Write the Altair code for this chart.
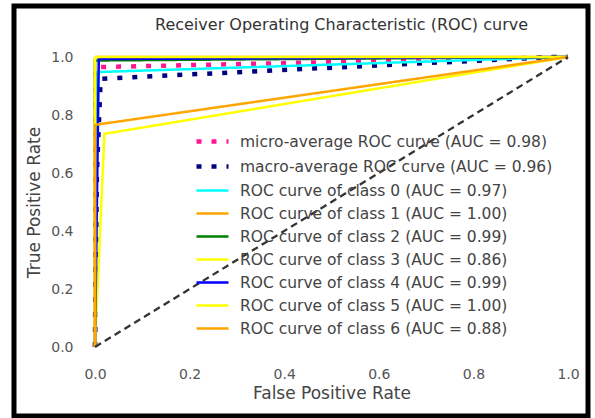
import altair as alt
import pandas as pd

# Curve labels, in legend order
series_names = [
    "micro-average ROC curve (AUC = 0.98)",
    "macro-average ROC curve (AUC = 0.96)",
    "ROC curve of class 0 (AUC = 0.97)",
    "ROC curve of class 1 (AUC = 1.00)",
    "ROC curve of class 2 (AUC = 0.99)",
    "ROC curve of class 3 (AUC = 0.86)",
    "ROC curve of class 4 (AUC = 0.99)",
    "ROC curve of class 5 (AUC = 1.00)",
    "ROC curve of class 6 (AUC = 0.88)",
]
series_colors = ["deeppink", "navy", "aqua", "orange", "green",
                 "yellow", "blue", "yellow", "orange"]

# ROC points per curve (false positive rate, true positive rate)
fpr_values = [
    [0.0, 0.002, 1.0],
    [0.0, 0.004, 0.012, 0.97, 1.0],
    [0.0, 0.005, 1.0],
    [0.0, 0.0, 1.0],
    [0.0, 0.0, 1.0],
    [0.0, 0.02, 1.0],
    [0.0, 0.008, 1.0],
    [0.0, 0.0, 1.0],
    [0.0, 0.0, 1.0],
]
tpr_values = [
    [0.0, 0.965, 1.0],
    [0.0, 0.6, 0.925, 1.0, 1.0],
    [0.0, 0.948, 1.0],
    [0.0, 1.0, 1.0],
    [0.0, 0.988, 1.0],
    [0.0, 0.735, 1.0],
    [0.0, 0.993, 1.0],
    [0.0, 1.0, 1.0],
    [0.0, 0.766, 1.0],
]
chance_fpr = [0.0, 1.0]
chance_tpr = [0.0, 1.0]

rows = []
for k, name in enumerate(series_names):
    for i, (f, t) in enumerate(zip(fpr_values[k], tpr_values[k])):
        rows.append({"series": name, "fpr": f, "tpr": t, "step": i})
curves = pd.DataFrame(rows)

dashes = [[5, 10], [5, 10]] + [[1, 0]] * 7
widths = [4.5, 4.5] + [2.5] * 7

FONT = "DejaVu Sans"
W, H = 473, 290
TICKS = [0, 0.2, 0.4, 0.6, 0.8, 1.0]

x_enc = alt.X("fpr:Q", scale=alt.Scale(domain=[0, 1], nice=False),
              axis=alt.Axis(title="False Positive Rate", values=TICKS, format=".1f",
                            labelFlush=False, labelPadding=20, titlePadding=4))
y_enc = alt.Y("tpr:Q", scale=alt.Scale(domain=[0, 1], nice=False),
              axis=alt.Axis(title="True Positive Rate", values=TICKS, format=".1f",
                            labelFlush=False, labelPadding=22, titlePadding=7))

lines = alt.Chart(curves).mark_line(clip=False, strokeCap="butt").encode(
    x=x_enc,
    y=y_enc,
    color=alt.Color("series:N", scale=alt.Scale(domain=series_names, range=series_colors),
                    legend=alt.Legend(title=None)),
    strokeDash=alt.StrokeDash("series:N", scale=alt.Scale(domain=series_names, range=dashes),
                              legend=alt.Legend(title=None)),
    strokeWidth=alt.StrokeWidth("series:N",
                                scale=alt.Scale(type="ordinal", domain=series_names, range=widths),
                                legend=alt.Legend(title=None)),
    order="step:Q",
)

chance = alt.Chart(pd.DataFrame({"fpr": chance_fpr, "tpr": chance_tpr})).mark_line(
    color="#333333", strokeWidth=2.3, strokeDash=[7, 4.5]
).encode(x="fpr:Q", y="tpr:Q")

frame = alt.Chart(pd.DataFrame({"k": [0]})).mark_rect(
    filled=False, stroke="black", strokeWidth=5, clip=False
).encode(x=alt.value(-81), x2=alt.value(W + 20), y=alt.value(-51), y2=alt.value(H + 69))

chart = alt.layer(lines, chance, frame).properties(
    width=W,
    height=H,
    title=alt.TitleParams("Receiver Operating Characteristic (ROC) curve", fontSize=16,
                          font=FONT, color="#333333", fontWeight="normal", offset=-29,
                          anchor="middle", frame="group", dx=10),
    autosize=alt.AutoSizeParams(type="none"),
    padding={"left": 95, "top": 57, "right": 27, "bottom": 71},
    background="white",
).configure_view(stroke=None).configure_axis(
    domain=False, ticks=False, grid=False,
    labelFont=FONT, labelFontSize=14, labelColor="#555555",
    titleFont=FONT, titleFontSize=17, titleColor="#444444", titleFontWeight="normal",
).configure_legend(
    orient="none", legendX=99, legendY=74, padding=0,
    # short-height line symbol: path spans four radii wide
    symbolType="M-1,0H3", symbolSize=256, labelOffset=25,
    labelFont=FONT, labelFontSize=15.5, labelColor="#444444", labelLimit=400,
    rowPadding=5,
)

chart.save("out.html", embed_options={"renderer": "svg", "actions": False})
